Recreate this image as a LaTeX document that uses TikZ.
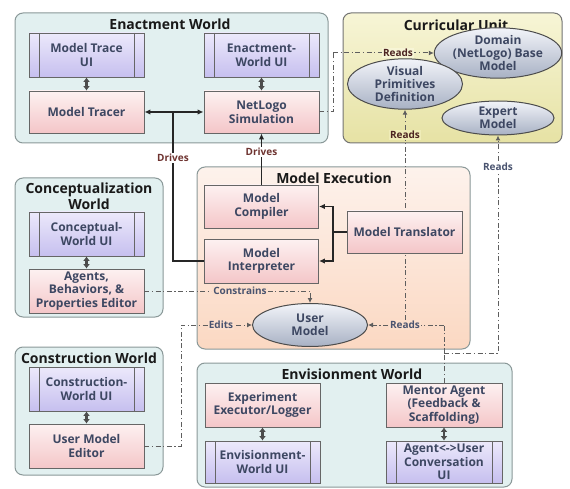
\documentclass[tikz,border=0pt]{standalone}
\usepackage{fontspec}
\setmainfont{Open Sans}
\usetikzlibrary{arrows.meta,shapes.geometric}
\definecolor{cyanbg}{HTML}{E2F0F0}
\definecolor{cbord}{HTML}{8A9898}
\definecolor{peachtop}{HTML}{FDF2EC}
\definecolor{peachbot}{HTML}{FBD8C2}
\definecolor{peachmid}{HTML}{FCDFCC}
\definecolor{yeltop}{HTML}{F7F5D6}
\definecolor{yelbot}{HTML}{E6E2A4}
\definecolor{yelmid}{HTML}{EFECB8}
\definecolor{uitop}{HTML}{ECE9FB}
\definecolor{uibot}{HTML}{C6BFEF}
\definecolor{pktop}{HTML}{FDF1F1}
\definecolor{pkbot}{HTML}{F4C6C8}
\definecolor{eltop}{HTML}{F2F4F9}
\definecolor{elbot}{HTML}{A8B1C4}
\definecolor{boxtxt}{HTML}{3D4762}
\definecolor{lblred}{HTML}{6E3330}
\definecolor{lblblue}{HTML}{4A5470}
\definecolor{ddcol}{HTML}{5E5E5E}
\tikzset{
  container/.style={draw=cbord, line width=1pt, rounded corners=8pt, fill=cyanbg},
  ttl/.style={font=\fontsize{14}{15.5}\selectfont\bfseries, text=black!90, align=center},
  boxbase/.style={draw=black!60, line width=0.9pt, align=center, text=boxtxt,
    font=\fontsize{12}{13.6}\selectfont\bfseries, inner sep=1pt, minimum width=115pt, minimum height=44pt},
  uibox/.style={boxbase, top color=uitop, bottom color=uibot,
    path picture={\draw[black!60, line width=0.9pt]
      ([xshift=10pt]path picture bounding box.north west) -- ([xshift=10pt]path picture bounding box.south west)
      ([xshift=-10pt]path picture bounding box.north east) -- ([xshift=-10pt]path picture bounding box.south east);}},
  procbox/.style={boxbase, top color=pktop, bottom color=pkbot},
  ell/.style={ellipse, draw=black!70, line width=1pt, top color=eltop, bottom color=elbot, align=center,
    text=boxtxt, font=\fontsize{12}{13.2}\selectfont\bfseries, inner sep=0pt},
  dbl/.style={{Latex[length=4.5pt,width=7pt]}-{Latex[length=4.5pt,width=7pt]}, line width=2.2pt, black!70},
  solid line/.style={line width=1.5pt, black!85},
  sarrow/.style={solid line, -{Latex[length=6pt,width=5.5pt]}},
  dsarrow/.style={solid line, {Latex[length=6pt,width=5.5pt]}-{Latex[length=6pt,width=5.5pt]}},
  dd/.style={ddcol, line width=1pt, dash pattern=on 5pt off 2.5pt on 1.2pt off 2.5pt},
  ddarrow/.style={dd, -{Latex[length=5pt,width=5pt]}},
  lbl/.style={font=\fontsize{10}{11}\selectfont\bfseries, inner sep=1pt},
}
\begin{document}
\begin{tikzpicture}[x=1pt,y=-1pt]
\useasboundingbox (0,0) rectangle (570,489);
% containers
\node[container, minimum width=313pt, minimum height=130pt] (enw) at (171.5,78) {};
\node[container, draw=black!55, top color=yeltop, bottom color=yelbot, minimum width=219pt, minimum height=130pt] (cur) at (452.5,78) {};
\node[container, minimum width=148pt, minimum height=139pt] (conw) at (89,247.5) {};
\node[container, minimum width=148pt, minimum height=128pt] (cstw) at (89,411) {};
\node[container, top color=peachtop, bottom color=peachbot, minimum width=273pt, minimum height=182pt] (mex) at (333.5,258) {};
\node[container, minimum width=315pt, minimum height=124pt] (envw) at (354.5,425) {};
% titles
\node[ttl] (t1) at (170,24) {Enactment World};
\node[ttl] (t2) at (456,25) {Curricular Unit};
\node[ttl] (t3) at (89,196) {Conceptualization\\World};
\node[ttl] (t4) at (89,358) {Construction World};
\node[ttl] (t5) at (334,178) {Model Execution};
\node[ttl] (t6) at (352,374) {Envisionment World};
% ellipses
\node[ell, minimum width=112pt, minimum height=36pt] (domain) at (498,53) {Domain\\(NetLogo) Base\\Model};
\node[ell, minimum width=115pt, minimum height=42pt] (visual) at (405,84) {Visual\\Primitives\\Definition};
\node[ell, minimum width=112pt, minimum height=34pt] (expert) at (498,118) {Expert\\Model};
\node[ell, minimum width=115pt, minimum height=43pt] (user) at (310,325) {User\\Model};
% coordinates
\coordinate (dj) at (173,112);
\coordinate (tj) at (333,232);
\coordinate (rc1) at (333,53);
\coordinate (mtop) at (444,325);
\coordinate (mj) at (444,353);
\coordinate (ec) at (181,325);
% label used as an end point
\node[lbl, text=lblblue, fill=peachmid] (readsB) at (405,325) {Reads};
% dash-dot connectors (under boxes)
\draw[ddarrow] (readsB.north) -- (visual.south);
\draw[dd] (mj) -- (mtop);
\draw[ddarrow] (mtop) -- (user.east);
\draw[ddarrow] (mj) -| (expert.south);
% boxes
\node[uibox] (mtui) at (86.5,55) {Model Trace\\UI};
\node[procbox, minimum height=42pt] (mtracer) at (86.5,112) {Model Tracer};
\node[uibox] (ewui) at (261.5,55) {Enactment-\\World UI};
\node[procbox, minimum height=42pt] (netlogo) at (261.5,112) {NetLogo\\Simulation};
\node[uibox] (cwui) at (86.5,234) {Conceptual-\\World UI};
\node[procbox] (abpe) at (86.5,291) {Agents,\\Behaviors, \&\\Properties Editor};
\node[uibox] (conui) at (86.5,389) {Construction-\\World UI};
\node[procbox] (ume) at (86.5,446) {User Model\\Editor};
\node[procbox, minimum width=114pt, minimum height=43pt] (compiler) at (261.5,206.5) {Model\\Compiler};
\node[procbox, minimum width=114pt] (interp) at (261.5,261) {Model\\Interpreter};
\node[procbox, minimum height=42pt] (translator) at (404.5,232) {Model Translator};
\node[procbox] (expexec) at (262.5,405) {Experiment\\Executor/Logger};
\node[uibox, minimum height=42pt] (envui) at (262.5,462) {Envisionment-\\World UI};
\node[procbox, minimum width=116pt] (mentor) at (444,405) {Mentor Agent\\(Feedback \&\\Scaffolding)};
\node[uibox, minimum width=116pt, minimum height=42pt] (convui) at (444,462) {Agent<->User\\Conversation\\UI};
% double arrows
\draw[dbl] (mtui.south) -- (mtracer.north);
\draw[dbl] (ewui.south) -- (netlogo.north);
\draw[dbl] (cwui.south) -- (abpe.north);
\draw[dbl] (conui.south) -- (ume.north);
\draw[dbl] (expexec.south) -- (envui.north);
\draw[dbl] (mentor.south) -- (convui.north);
% mentor up
\draw[dd] (mentor.north) -- (mj);
% solid connectors
\draw[solid line] (interp.west) -| (dj);
\draw[dsarrow] (mtracer.east) -- (netlogo.west);
\draw[sarrow] (compiler.north) -- (netlogo.south);
\draw[solid line] (translator.west) -- (tj);
\draw[sarrow] (tj) |- (compiler.east);
\draw[sarrow] (tj) |- (interp.east);
% other dash-dot connectors
\draw[dd] (netlogo.east) -| (rc1);
\draw[ddarrow] (rc1) -- (domain.west);
\draw[ddarrow] (abpe.east) -| (user.north);
\draw[ddarrow] (ume.east) -| (ec) -- (user.west);
% labels
\node[lbl, text=lblred, fill=white] (drv1) at (173,158) {Drives};
\node[lbl, text=lblred, fill=white] (drv2) at (261.5,152) {Drives};
\node[lbl, text=lblred!70!black, fill=yeltop] (readsT) at (398,53) {Reads};
\node[lbl, text=lblred!70!black, fill=yelmid] (readsV) at (405,135) {Reads};
\node[lbl, text=lblblue, fill=white] (readsE) at (498,167) {Reads};
\node[lbl, text=lblblue, fill=peachmid] (cons) at (240,291) {Constrains};
\node[lbl, text=lblblue, fill=peachmid] (edits) at (221,325) {Edits};
\node[lbl, text=lblblue, fill=peachmid] at (readsB) {Reads};
\end{tikzpicture}
\end{document}
